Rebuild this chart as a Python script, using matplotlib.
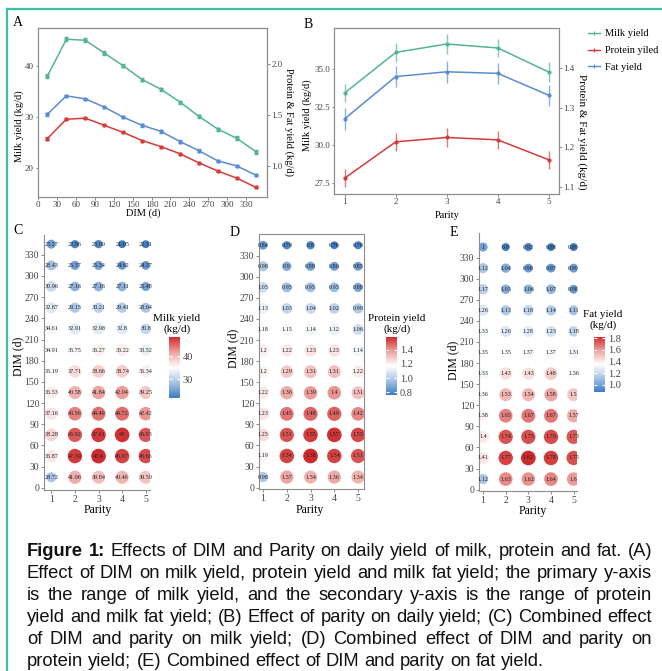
import matplotlib
matplotlib.use("Agg")
import matplotlib.pyplot as plt
import numpy as np
from matplotlib.colors import LinearSegmentedColormap, Normalize
from matplotlib.lines import Line2D

W, H = 662, 671

# ---- panel A: yield along DIM ----
dim = [15, 45, 75, 105, 135, 165, 195, 225, 255, 285, 315, 345]
milk_dim = [38.0, 45.2, 45.0, 42.5, 40.0, 37.3, 35.4, 32.9, 30.1, 27.6, 25.8, 23.2]
milk_dim_se = [0.45, 0.40, 0.35, 0.35, 0.30, 0.30, 0.30, 0.30, 0.30, 0.30, 0.35, 0.40]
protein_dim = [1.27, 1.46, 1.47, 1.40, 1.33, 1.25, 1.19, 1.12, 1.03, 0.95, 0.88, 0.79]
protein_dim_se = [0.012, 0.010, 0.010, 0.010, 0.010, 0.010, 0.010, 0.010, 0.010, 0.010, 0.010, 0.012]
fat_dim = [1.51, 1.69, 1.66, 1.58, 1.48, 1.40, 1.34, 1.24, 1.15, 1.05, 1.00, 0.91]
fat_dim_se = [0.014, 0.012, 0.012, 0.012, 0.012, 0.012, 0.012, 0.012, 0.012, 0.012, 0.012, 0.014]

# ---- panel B: yield along parity ----
parity = [1, 2, 3, 4, 5]
milk_par = [33.41, 36.07, 36.62, 36.36, 34.78]
milk_par_se = [0.57, 0.63, 0.63, 0.62, 0.65]
protein_par = [1.123, 1.214, 1.225, 1.219, 1.169]
protein_par_se = [0.022, 0.022, 0.024, 0.023, 0.023]
fat_par = [1.272, 1.378, 1.390, 1.386, 1.331]
fat_par_se = [0.027, 0.027, 0.027, 0.027, 0.027]

# ---- panels C-E: DIM x parity (rows DIM 15 -> 345, cols parity 1 -> 5) ----
milk_grid = [
    [28.72, 41.06, 39.84, 40.46, 39.59],
    [36.87, 47.39, 48.4, 46.97, 46.66],
    [38.28, 45.92, 47.61, 48, 45.93],
    [37.16, 43.56, 44.49, 44.72, 42.42],
    [36.53, 40.58, 41.84, 42.04, 39.25],
    [35.19, 37.71, 38.66, 38.74, 36.34],
    [34.91, 35.75, 36.27, 36.22, 33.52],
    [34.61, 32.91, 32.98, 32.8, 30.8],
    [32.87, 29.15, 30.21, 29.41, 28.64],
    [30.96, 27.16, 27.16, 27.11, 25.48],
    [28.43, 25.37, 25.34, 24.62, 24.37],
    [25.27, 22.96, 23.09, 21.95, 22.31],
]
protein_grid = [
    [0.98, 1.37, 1.34, 1.36, 1.34],
    [1.19, 1.54, 1.58, 1.54, 1.51],
    [1.25, 1.51, 1.55, 1.57, 1.53],
    [1.23, 1.45, 1.48, 1.49, 1.42],
    [1.22, 1.36, 1.39, 1.4, 1.31],
    [1.2, 1.29, 1.31, 1.31, 1.22],
    [1.2, 1.22, 1.23, 1.23, 1.14],
    [1.18, 1.15, 1.14, 1.12, 1.06],
    [1.13, 1.03, 1.04, 1.02, 0.99],
    [1.05, 0.95, 0.95, 0.95, 0.88],
    [0.98, 0.9, 0.88, 0.86, 0.85],
    [0.84, 0.79, 0.8, 0.76, 0.78],
]
fat_grid = [
    [1.12, 1.63, 1.62, 1.64, 1.6],
    [1.41, 1.77, 1.82, 1.78, 1.75],
    [1.4, 1.74, 1.75, 1.76, 1.73],
    [1.38, 1.65, 1.67, 1.67, 1.57],
    [1.36, 1.53, 1.54, 1.58, 1.5],
    [1.33, 1.43, 1.43, 1.48, 1.36],
    [1.35, 1.35, 1.37, 1.37, 1.31],
    [1.33, 1.26, 1.28, 1.23, 1.18],
    [1.26, 1.13, 1.18, 1.14, 1.11],
    [1.17, 1.05, 1.06, 1.07, 0.98],
    [1.12, 1.04, 0.98, 0.97, 0.99],
    [1, 0.9, 0.92, 0.88, 0.89],
]

caption = [
    [("Figure", True), ("1:", True)] + [(w, False) for w in "Effects of DIM and Parity on daily yield of milk, protein and fat. (A)".split()],
    [(w, False) for w in "Effect of DIM on milk yield, protein yield and milk fat yield; the primary y-axis".split()],
    [(w, False) for w in "is the range of milk yield, and the secondary y-axis is the range of protein".split()],
    [(w, False) for w in "yield and milk fat yield; (B) Effect of parity on daily yield; (C) Combined effect".split()],
    [(w, False) for w in "of DIM and parity on milk yield; (D) Combined effect of DIM and parity on".split()],
    [(w, False) for w in "protein yield; (E) Combined effect of DIM and parity on fat yield.".split()],
]

GREEN = '#54b58e'
RED = '#d63a3a'
BLUE = '#5a8cd3'
GRAY = '#8c8c8c'
TXT = '#444444'
TEAL = '#3dbfa3'

plt.rcParams['font.family'] = ['Liberation Serif', 'DejaVu Serif']

fig = plt.figure(figsize=(W / 100, H / 100), dpi=100)


def rect(l, t, r, b):
    return [l / W, 1 - b / H, (r - l) / W, (b - t) / H]


def ftext(x, y, s, **kw):
    return fig.text(x / W, 1 - y / H, s, **kw)


def style(ax, sides, size=6.5, length=1.8):
    for k, sp in ax.spines.items():
        sp.set_color(GRAY)
        sp.set_linewidth(0.8)
        sp.set_visible(k in sides)
    ax.tick_params(color=GRAY, labelcolor=TXT, length=length, width=0.7,
                   labelsize=size, pad=1.2)


# frame lines of the page screenshot
fig.add_artist(Line2D([7 / W, 1], [1 - 9 / H, 1 - 9 / H], color=TEAL, lw=1.6))
fig.add_artist(Line2D([7 / W, 7 / W], [0, 1 - 9 / H], color=TEAL, lw=1.6))

# ---------------- A ----------------
ax_a = fig.add_axes(rect(38, 28, 267, 197))
ax_a2 = ax_a.twinx()
ax_a.errorbar(dim, milk_dim, yerr=milk_dim_se, color=GREEN, lw=1.1, marker='o', ms=2,
              capsize=1.2, elinewidth=0.8)
ax_a2.errorbar(dim, protein_dim, yerr=protein_dim_se, color=RED, lw=1.1, marker='o', ms=2,
               capsize=1.2, elinewidth=0.8)
ax_a2.errorbar(dim, fat_dim, yerr=fat_dim_se, color=BLUE, lw=1.1, marker='o', ms=2,
               capsize=1.2, elinewidth=0.8)
ax_a.set_xlim(0, 363)
ax_a.set_ylim(14.3, 47.4)
ax_a2.set_ylim(0.694, 2.358)
ax_a.set_xticks(range(0, 331, 30))
ax_a.set_yticks([20, 30, 40])
ax_a2.set_yticks([1.0, 1.5, 2.0])
ax_a2.set_yticklabels(['1.0', '1.5', '2.0'])
style(ax_a, ('left', 'bottom', 'right', 'top'))
style(ax_a2, ('left', 'bottom', 'right', 'top'))
ftext(18, 23, 'A', fontsize=10, ha='center', va='center')
ftext(19, 126, 'Milk yield (kg/d)', fontsize=7.5, rotation=90, ha='center', va='center')
ftext(289, 122, 'Protein & Fat yield (kg/d)', fontsize=7.5, rotation=270, ha='center', va='center')
ftext(143, 213, 'DIM (d)', fontsize=7.5, ha='center', va='center')

# ---------------- B ----------------
ax_b = fig.add_axes(rect(334, 28, 559, 194))
ax_b2 = ax_b.twinx()
ax_b.plot(parity, milk_par, color=GREEN, lw=1.1, marker='o', ms=2)
ax_b.errorbar(parity, milk_par, yerr=milk_par_se, fmt='none', ecolor=GREEN, elinewidth=1.0, alpha=0.7)
ax_b2.plot(parity, protein_par, color=RED, lw=1.1, marker='o', ms=2)
ax_b2.errorbar(parity, protein_par, yerr=protein_par_se, fmt='none', ecolor=RED, elinewidth=1.0, alpha=0.7)
ax_b2.plot(parity, fat_par, color=BLUE, lw=1.1, marker='o', ms=2)
ax_b2.errorbar(parity, fat_par, yerr=fat_par_se, fmt='none', ecolor=BLUE, elinewidth=1.0, alpha=0.7)
ax_b.set_xlim(0.79, 5.2)
ax_b.set_ylim(26.78, 37.67)
ax_b2.set_ylim(1.083, 1.5)
ax_b.set_xticks(parity)
ax_b.set_yticks([27.5, 30.0, 32.5, 35.0])
ax_b.set_yticklabels(['27.5', '30.0', '32.5', '35.0'])
ax_b2.set_yticks([1.1, 1.2, 1.3, 1.4])
ax_b2.set_yticklabels(['1.1', '1.2', '1.3', '1.4'])
style(ax_b, ('left', 'bottom', 'right', 'top'))
style(ax_b2, ('left', 'bottom', 'right', 'top'))
ftext(308, 24, 'B', fontsize=10, ha='center', va='center')
ftext(307, 115, 'Milk yield (kg/d)', fontsize=7.5, rotation=90, ha='center', va='center')
ftext(582, 132, 'Protein & Fat yield (kg/d)', fontsize=8, rotation=270, ha='center', va='center')
ftext(447, 216, 'Parity', fontsize=7.5, ha='center', va='center')

handles = [Line2D([], [], color=c, lw=1, marker='+', ms=3.5, mew=0.8) for c in (GREEN, RED, BLUE)]
fig.legend(handles, ['Milk yield', 'Protein yiled', 'Fat yield'], loc='upper left',
           bbox_to_anchor=(584 / W, 1 - 25 / H), frameon=False, fontsize=7.5,
           handlelength=1.1, handletextpad=0.5, labelspacing=0.72, borderaxespad=0)

# ---------------- C, D, E ----------------
cmap = LinearSegmentedColormap.from_list(
    'bwr_soft', ['#3b7cc3', '#a7c4e4', '#ffffff', '#eea39f', '#cf2b2d'])


def bubble(ax_rect, grid, xlim, ylim, sides, cax_rect, ticks, ticklabels, title, title_xy,
           letter, letter_xy, ylab_xy, xlab_xy):
    ax = fig.add_axes(rect(*ax_rect))
    vals = np.array(grid, dtype=float)
    X, Y = np.meshgrid(parity, dim)
    norm = Normalize(vals.min(), vals.max())
    sizes = 32 + (vals - vals.min()) / (vals.max() - vals.min()) * 80
    sc = ax.scatter(X.ravel(), Y.ravel(), s=sizes.ravel(), c=vals.ravel(), cmap=cmap,
                    norm=norm, edgecolors='none', zorder=2)
    for x, y, v in zip(X.ravel(), Y.ravel(), vals.ravel()):
        ax.text(x, y, f'{v:g}', fontsize=4.4, ha='center', va='center', color='#222222', zorder=3)
    ax.set_xlim(*xlim)
    ax.set_ylim(*ylim)
    ax.set_xticks(parity)
    ax.set_yticks(range(0, 331, 30))
    style(ax, sides, size=7, length=2.2)
    cax = fig.add_axes(rect(*cax_rect))
    cb = fig.colorbar(sc, cax=cax)
    cb.outline.set_visible(False)
    cb.set_ticks(ticks)
    cb.set_ticklabels(ticklabels)
    cax.tick_params(direction='in', color='white', labelcolor=TXT, length=2.5, width=0.8,
                    labelsize=7.5, left=True, right=True, pad=2)
    ftext(title_xy[0], title_xy[1], title, fontsize=8, ha='center', va='center', linespacing=1.2)
    ftext(letter_xy[0], letter_xy[1], letter, fontsize=10, ha='center', va='center')
    ftext(ylab_xy[0], ylab_xy[1], 'DIM (d)', fontsize=8.5, rotation=90, ha='center', va='center')
    ftext(xlab_xy[0], xlab_xy[1], 'Parity', fontsize=8.5, ha='center', va='center')


bubble((44, 235, 150, 490), milk_grid, (0.69, 5.18), (-3, 358), ('left', 'bottom'),
       (169, 337, 180, 398), [30, 40], ['30', '40'], 'Milk yield\n(kg/d)', (177, 324),
       'C', (18, 230), (18, 356), (98, 510))
bubble((259, 234, 364, 489), protein_grid, (0.83, 5.25), (-2, 361), ('left', 'bottom', 'right', 'top'),
       (386, 337, 397, 395), [0.8, 1.0, 1.2, 1.4], ['0.8', '1.0', '1.2', '1.4'],
       'Protein yield\n(kg/d)', (397, 324), 'D', (235, 232), (233, 348), (310, 510))
bubble((479, 233, 577, 491), fat_grid, (0.82, 5.15), (-2, 365), ('left', 'bottom'),
       (594, 337, 605, 392), [1.0, 1.2, 1.4, 1.6, 1.8], ['1.0', '1.2', '1.4', '1.6', '1.8'],
       'Fat yield\n(kg/d)', (603, 320), 'E', (454, 233), (453, 360), (533, 511))

# ---------------- caption (justified) ----------------
renderer = fig.canvas.get_renderer()
x0, x1 = 27, 652
cap_size = 13.2


def measure(s, bold=False, size=cap_size):
    t = fig.text(0, 0, s, fontsize=size, family='Liberation Sans',
                 fontweight='bold' if bold else 'normal')
    w = t.get_window_extent(renderer).width
    t.remove()
    return w


# keep every justified line from needing less than a normal space
space_w = measure('a a') - measure('aa')
widest = max(sum(measure(w, b) for w, b in words) + space_w * (len(words) - 1)
             for words in caption[:-1])
if widest > x1 - x0:
    cap_size *= (x1 - x0) / widest
    space_w = measure('a a') - measure('aa')

for k, words in enumerate(caption):
    y = 551 + 22.2 * k
    texts, widths = [], []
    for w, bold in words:
        t = ftext(0, y, w, fontsize=cap_size, family='Liberation Sans',
                  fontweight='bold' if bold else 'normal', ha='left', va='center', color='#111111')
        texts.append(t)
        widths.append(t.get_window_extent(renderer).width)
    if k == len(caption) - 1:
        gap = space_w
    else:
        gap = (x1 - x0 - sum(widths)) / (len(words) - 1)
    x = x0
    for t, wd in zip(texts, widths):
        t.set_x(x / W)
        x += wd + gap

fig.savefig('out.png', dpi=100)
